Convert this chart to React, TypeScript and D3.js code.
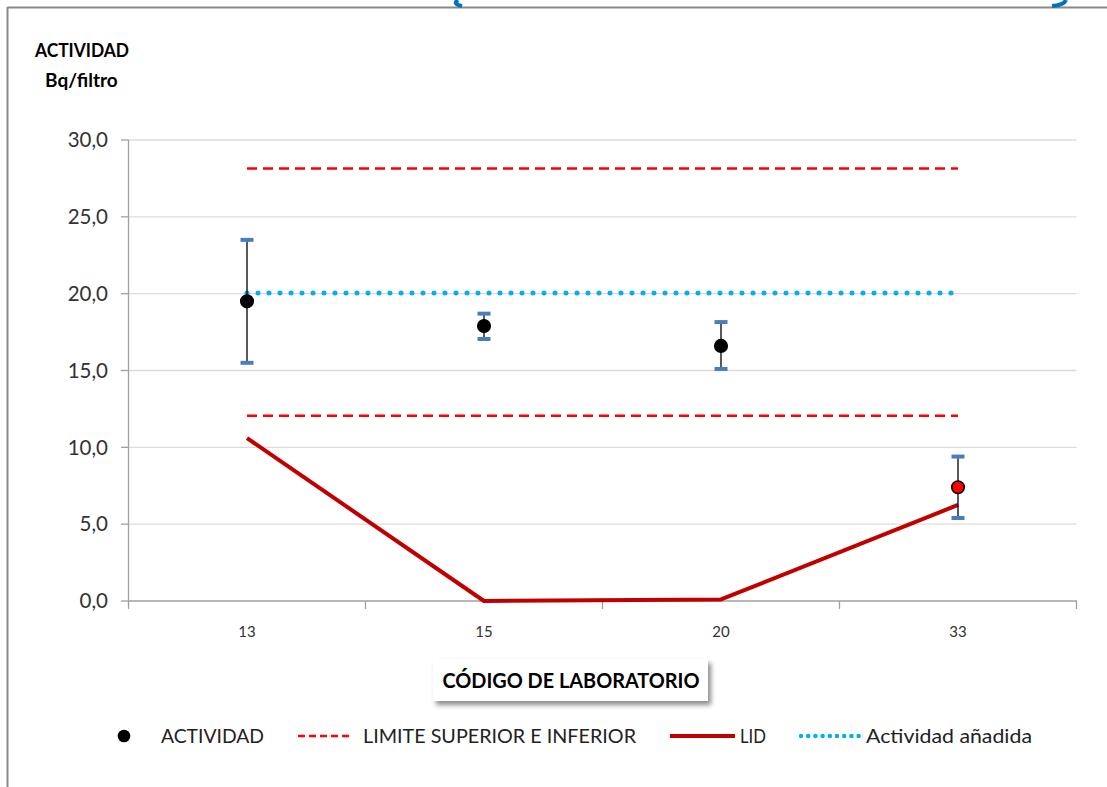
import React from "react";
import * as d3 from "d3";

const labs = ["13", "15", "20", "33"];
const actividad = [19.5, 17.9, 16.6, 7.4];
const errLow = [15.5, 17.05, 15.1, 5.4];
const errHigh = [23.5, 18.7, 18.15, 9.4];
const pointFill = ["#000000", "#000000", "#000000", "#ff0000"];
const limSup = [28.15, 28.15, 28.15, 28.15];
const limInf = [12.05, 12.05, 12.05, 12.05];
const lid = [10.6, 0.0, 0.1, 6.25];
const anadida = [20.05, 20.05, 20.05, 20.05];
const yTicks = [0, 5, 10, 15, 20, 25, 30];

const W = 1107, H = 787;
const FONT = "Lato, 'Open Sans', sans-serif";

export default function App() {
  const x = d3.scaleBand<string>().domain(labs).range([128.5, 1076.5]);
  const y = d3.scaleLinear().domain([0, 30]).range([601, 140]);
  const cx = (i: number) => (x(labs[i]) as number) + x.bandwidth() / 2;
  const lineGen = d3.line<number>().x((_, i) => cx(i)).y((v) => y(v));
  const fmt = (v: number) => v.toFixed(1).replace(".", ",");
  const bounds = [...labs.map((l) => x(l) as number), 1076.5];

  return (
    <svg width={W} height={H} style={{ position: "absolute", left: 0, top: 0, background: "#fff" }}>
      <defs>
        <filter id="sh" x="-10%" y="-30%" width="130%" height="180%">
          <feDropShadow dx="3" dy="4" stdDeviation="2.5" floodColor="#000" floodOpacity="0.45" />
        </filter>
      </defs>
      {/* frame */}
      <line x1={7.5} y1={7.5} x2={W} y2={7.5} stroke="#888" strokeWidth={2} />
      <line x1={7.5} y1={7} x2={7.5} y2={H} stroke="#888" strokeWidth={2} />
      {/* blue brace tails at top */}
      <path d="M 458 0 Q 452 4 462 6" fill="none" stroke="#0070c0" strokeWidth={4} />
      <path d="M 1066 0 Q 1064 5 1052 6" fill="none" stroke="#0070c0" strokeWidth={4} />

      {/* axis title */}
      <text x={35} y={57} fontFamily={FONT} fontWeight="bold" fontSize={19} fill="#000" textLength={94} lengthAdjust="spacingAndGlyphs">ACTIVIDAD</text>
      <text x={45} y={87} fontFamily={FONT} fontWeight="bold" fontSize={19} fill="#000">Bq/filtro</text>

      {/* gridlines */}
      {yTicks.filter((t) => t > 0).map((t) => (
        <line key={t} x1={128.5} x2={1076.5} y1={y(t)} y2={y(t)} stroke="#dcdcdc" strokeWidth={1.3} />
      ))}
      {/* y axis */}
      <line x1={128.5} x2={128.5} y1={140} y2={601} stroke="#a0a0a0" strokeWidth={1.3} />
      {yTicks.map((t) => (
        <g key={t}>
          <line x1={121} x2={128.5} y1={y(t)} y2={y(t)} stroke="#a0a0a0" strokeWidth={1.3} />
          <text x={108} y={y(t)} dy="0.35em" textAnchor="end" fontFamily={FONT} fontSize={20.5} fill="#333">{fmt(t)}</text>
        </g>
      ))}
      {/* x axis */}
      <line x1={128.5} x2={1077} y1={601} y2={601} stroke="#a0a0a0" strokeWidth={1.3} />
      {bounds.map((b, i) => (
        <line key={i} x1={b} x2={b} y1={601} y2={609} stroke="#a0a0a0" strokeWidth={1.3} />
      ))}
      {labs.map((l, i) => (
        <text key={l} x={cx(i)} y={632} dy="0.35em" textAnchor="middle" fontFamily={FONT} fontSize={15} fill="#333">{l}</text>
      ))}

      {/* limit lines */}
      <path d={lineGen(limSup) as string} fill="none" stroke="#ff0000" strokeWidth={2.5} strokeDasharray="10 6" />
      <path d={lineGen(limInf) as string} fill="none" stroke="#ff0000" strokeWidth={2.5} strokeDasharray="10 6" />
      {/* LID */}
      <path d={lineGen(lid) as string} fill="none" stroke="#c00000" strokeWidth={4} strokeLinejoin="round" />
      {/* actividad añadida */}
      <path d={lineGen(anadida) as string} fill="none" stroke="#00b0f0" strokeWidth={5} strokeLinecap="round" strokeDasharray="0 11" />

      {/* error bars + points */}
      {actividad.map((v, i) => (
        <g key={i}>
          <line x1={cx(i)} x2={cx(i)} y1={y(errLow[i])} y2={y(errHigh[i])} stroke="#000" strokeWidth={1.3} />
          <line x1={cx(i) - 6.5} x2={cx(i) + 6.5} y1={y(errLow[i])} y2={y(errLow[i])} stroke="#4a7ebb" strokeWidth={4} />
          <line x1={cx(i) - 6.5} x2={cx(i) + 6.5} y1={y(errHigh[i])} y2={y(errHigh[i])} stroke="#4a7ebb" strokeWidth={4} />
          <circle cx={cx(i)} cy={y(v)} r={6.3} fill={pointFill[i]} stroke="#000" strokeWidth={1.5} />
        </g>
      ))}

      {/* x axis title box */}
      <rect x={433} y={659} width={275} height={42} fill="#fff" filter="url(#sh)" />
      <text x={571} y={681} dy="0.35em" textAnchor="middle" fontFamily={FONT} fontWeight="bold" fontSize={20} fill="#000" textLength={257} lengthAdjust="spacingAndGlyphs">CÓDIGO DE LABORATORIO</text>

      {/* legend */}
      <g fontFamily={FONT} fontSize={20} fill="#222">
        <circle cx={124} cy={736} r={6.3} fill="#000" />
        <text x={161} y={736} dy="0.35em" textLength={103} lengthAdjust="spacingAndGlyphs">ACTIVIDAD</text>
        <line x1={298} x2={352} y1={736} y2={736} stroke="#ff0000" strokeWidth={2.5} strokeDasharray="7 4" />
        <text x={363} y={736} dy="0.35em" textLength={273} lengthAdjust="spacingAndGlyphs">LIMITE SUPERIOR E INFERIOR</text>
        <line x1={670} x2={735} y1={736} y2={736} stroke="#c00000" strokeWidth={4} />
        <text x={740} y={736} dy="0.35em" textLength={26} lengthAdjust="spacingAndGlyphs">LID</text>
        <line x1={801} x2={861} y1={736} y2={736} stroke="#00b0f0" strokeWidth={4.5} strokeLinecap="round" strokeDasharray="0 7.2" />
        <text x={866} y={736} dy="0.35em" textLength={166} lengthAdjust="spacingAndGlyphs">Actividad añadida</text>
      </g>
    </svg>
  );
}
